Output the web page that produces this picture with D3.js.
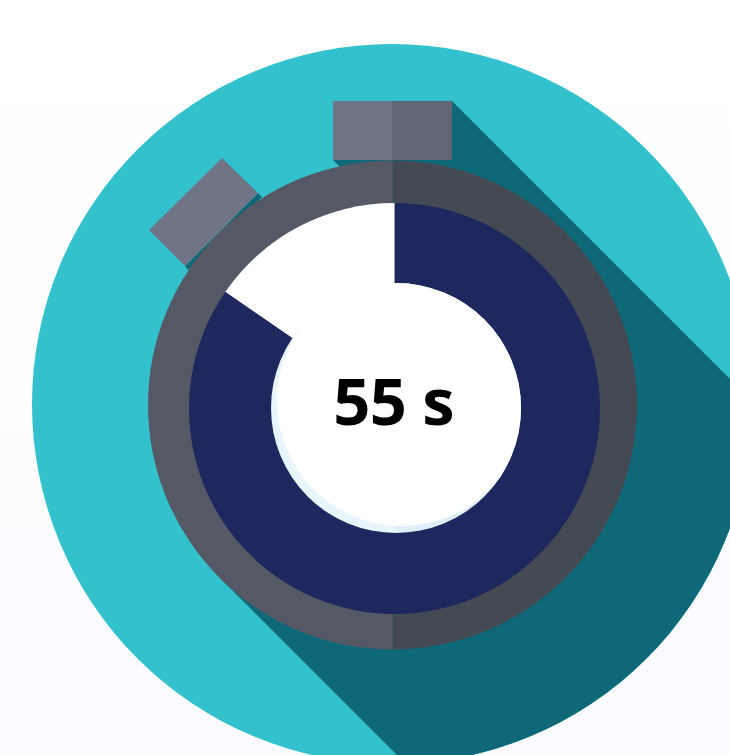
<!DOCTYPE html>
<html>
<head>
<meta charset="utf-8">
<script src="https://d3js.org/d3.v7.min.js"></script>
<style>
html, body { margin: 0; padding: 0; background: #fff; overflow: hidden; }
svg { display: block; }
</style>
</head>
<body>
<svg id="chart" width="730" height="755"></svg>
<script>
// timer values, in seconds
var timerLabels = ['elapsed', 'remaining'];
var timerValues = [55, 10];
var timerUnit = 's';

var config = {
    width: 730, height: 755,
    disc: { x: 392, y: 404, r: 360 },
    ring: { x: 392.5, y: 405, r: 244.5 },
    dial: { x: 394.5, y: 408.5, r: 205.5 },
    hole: { x: 396, y: 408, r: 125 },
    face: { x: 402, y: 401, r: 125 }
};

var colors = {
    disc: '#32c1cd', shadow: '#0f6878',
    ringLeft: '#555966', ringRight: '#444a54',
    knobLeft: '#6f7587', knobRight: '#616675',
    elapsed: '#1e285e', remaining: '#ffffff',
    holeLeft: '#e8f5fc', holeRight: '#dfeef8'
};

var svg = d3.select('#chart');
var defs = svg.append('defs');

var bg = defs.append('linearGradient')
    .attr('id', 'bg')
    .attr('x1', 0).attr('y1', 0)
    .attr('x2', 0).attr('y2', 1);
bg.append('stop').attr('offset', 0).attr('stop-color', '#ffffff');
bg.append('stop').attr('offset', 1).attr('stop-color', '#fafbff');

defs.append('clipPath')
    .attr('id', 'discClip')
    .append('circle')
    .attr('cx', config.disc.x)
    .attr('cy', config.disc.y)
    .attr('r', config.disc.r);

defs.append('clipPath')
    .attr('id', 'holeClip')
    .append('circle')
    .attr('cx', config.hole.x)
    .attr('cy', config.hole.y)
    .attr('r', config.hole.r);

function polygon(parent, pts, fill) {
    return parent.append('polygon')
        .attr('points', pts.map(function(p) { return p.join(','); }).join(' '))
        .attr('fill', fill);
}

function halves(parent, c, rightFill, leftFill) {
    var arc = d3.arc().innerRadius(0).outerRadius(c.r);
    var g = parent.append('g')
        .attr('transform', 'translate(' + c.x + ',' + c.y + ')');
    g.append('path')
        .attr('d', arc({ startAngle: 0, endAngle: Math.PI }))
        .attr('fill', rightFill);
    g.append('path')
        .attr('d', arc({ startAngle: Math.PI, endAngle: 2 * Math.PI }))
        .attr('fill', leftFill);
}

svg.append('rect')
    .attr('width', config.width)
    .attr('height', config.height)
    .attr('fill', 'url(#bg)');

svg.append('circle')
    .attr('cx', config.disc.x)
    .attr('cy', config.disc.y)
    .attr('r', config.disc.r)
    .attr('fill', colors.disc);

// long shadow
var shadow = svg.append('g').attr('clip-path', 'url(#discClip)');
polygon(shadow, [[452, 101], [852, 501], [497, 855], [222, 580], [392, 158]], colors.shadow);
polygon(shadow, [[333, 160], [340, 167], [392, 167], [392, 160]], colors.shadow);
polygon(shadow, [[258, 193], [262, 197], [188, 270], [185, 266]], colors.shadow);

// knobs
svg.append('rect').attr('x', 333).attr('y', 101).attr('width', 59).attr('height', 59).attr('fill', colors.knobLeft);
svg.append('rect').attr('x', 392).attr('y', 101).attr('width', 60).attr('height', 59).attr('fill', colors.knobRight);
polygon(svg, [[222, 158], [258, 193], [185, 266], [149, 230]], colors.knobLeft);

halves(svg, config.ring, colors.ringRight, colors.ringLeft);

// dial
var pie = d3.pie().sort(null);
var dialArc = d3.arc().innerRadius(0).outerRadius(config.dial.r);
var dialColor = d3.scaleOrdinal()
    .domain(timerLabels)
    .range([colors.elapsed, colors.remaining]);

svg.append('g')
    .attr('transform', 'translate(' + config.dial.x + ',' + config.dial.y + ')')
    .selectAll('path')
    .data(pie(timerValues))
    .join('path')
    .attr('d', dialArc)
    .attr('fill', function(d, i) { return dialColor(timerLabels[i]); });

halves(svg, config.hole, colors.holeRight, colors.holeLeft);

svg.append('circle')
    .attr('cx', config.face.x)
    .attr('cy', config.face.y)
    .attr('r', config.face.r)
    .attr('clip-path', 'url(#holeClip)')
    .attr('fill', '#fff');

svg.append('text')
    .attr('x', 393.5)
    .attr('y', 425)
    .attr('text-anchor', 'middle')
    .attr('font-family', '"Open Sans", sans-serif')
    .attr('font-weight', 700)
    .attr('font-size', 65)
    .attr('letter-spacing', -0.8)
    .attr('fill', '#000')
    .text(timerValues[0] + ' ' + timerUnit);
</script>
</body>
</html>
